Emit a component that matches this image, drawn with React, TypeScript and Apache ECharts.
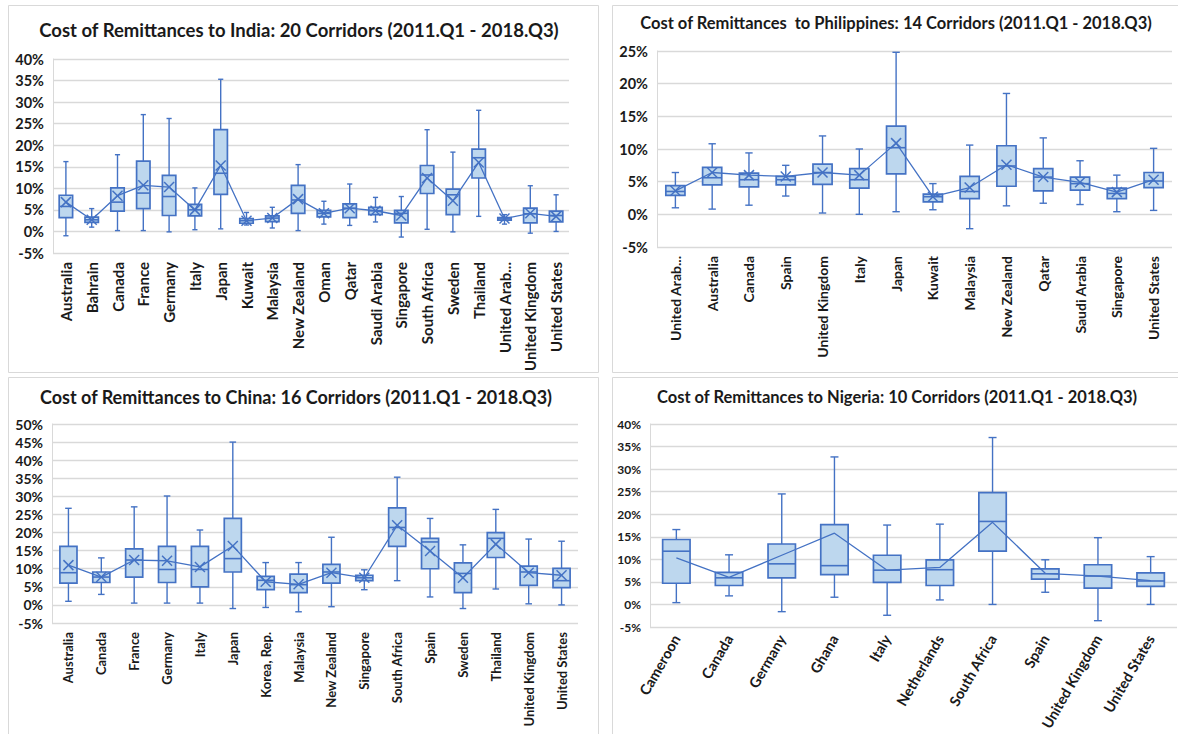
import { useEffect, useRef } from 'react';
import * as echarts from 'echarts';

// Cost of remittances (% of amount sent), quartiles per sending corridor
const indiaNames = ['Australia', 'Bahrain', 'Canada', 'France', 'Germany', 'Italy', 'Japan', 'Kuwait', 'Malaysia', 'New Zealand', 'Oman', 'Qatar', 'Saudi Arabia', 'Singapore', 'South Africa', 'Sweden', 'Thailand', 'United Arab Emirates', 'United Kingdom', 'United States'];
const indiaMin = [-1.0, 1.0, 0.2, 0.2, -0.1, 0.4, 0.6, 1.5, 0.8, 0.2, 1.7, 1.4, 2.2, -1.3, 0.5, -0.1, 3.5, 1.7, -0.4, 0.0];
const indiaQ1 = [3.2, 2.1, 4.7, 5.3, 3.7, 3.6, 8.6, 1.9, 2.3, 4.2, 3.4, 3.2, 3.9, 2.0, 8.8, 3.9, 12.4, 2.6, 2.0, 2.2];
const indiaMedian = [5.8, 2.7, 6.8, 8.9, 8.1, 5.0, 13.5, 2.5, 3.1, 7.3, 4.2, 5.4, 4.8, 4.2, 13.1, 8.5, 17.1, 2.9, 4.1, 3.7];
const indiaQ3 = [8.4, 3.3, 10.1, 16.3, 13.0, 6.3, 23.6, 3.0, 3.6, 10.7, 4.9, 6.4, 5.6, 4.9, 15.3, 9.8, 19.1, 3.2, 5.4, 4.7];
const indiaMax = [16.2, 5.3, 17.8, 27.1, 26.2, 10.1, 35.3, 4.4, 5.6, 15.5, 7.0, 11.0, 7.9, 8.1, 23.6, 18.4, 28.1, 3.9, 10.6, 8.5];
const indiaMean = [6.8, 2.7, 8.3, 10.7, 10.3, 5.0, 15.3, 2.5, 3.1, 7.5, 4.2, 5.4, 4.8, 3.7, 12.4, 7.1, 16.0, 3.0, 4.2, 3.5];

const philNames = ['United Arab Emirates', 'Australia', 'Canada', 'Spain', 'United Kingdom', 'Italy', 'Japan', 'Kuwait', 'Malaysia', 'New Zealand', 'Qatar', 'Saudi Arabia', 'Singapore', 'United States'];
const philMin = [1.0, 0.8, 1.4, 2.8, 0.2, 0.0, 0.4, 0.7, -2.2, 1.3, 1.7, 1.5, 0.4, 0.6];
const philQ1 = [2.9, 4.5, 4.2, 4.5, 4.6, 4.0, 6.2, 1.9, 2.4, 4.3, 3.6, 3.7, 2.4, 4.1];
const philMedian = [3.5, 5.6, 5.3, 5.3, 6.4, 5.3, 10.2, 2.7, 3.5, 7.4, 5.7, 4.7, 3.2, 5.1];
const philQ3 = [4.4, 7.2, 6.3, 5.8, 7.7, 7.0, 13.5, 3.1, 5.8, 10.5, 7.0, 5.7, 4.0, 6.4];
const philMax = [6.4, 10.8, 9.4, 7.5, 12.0, 10.0, 24.8, 4.7, 10.6, 18.5, 11.7, 8.2, 6.0, 10.1];
const philMean = [3.6, 6.4, 6.0, 5.8, 6.4, 6.0, 10.9, 2.7, 4.1, 7.6, 5.7, 4.9, 3.4, 5.3];

const chinaNames = ['Australia', 'Canada', 'France', 'Germany', 'Italy', 'Japan', 'Korea, Rep.', 'Malaysia', 'New Zealand', 'Singapore', 'South Africa', 'Spain', 'Sweden', 'Thailand', 'United Kingdom', 'United States'];
const chinaMin = [1.0, 2.9, 0.5, 0.5, 0.5, -1.0, -0.7, -1.9, -0.5, 4.2, 6.7, 2.2, -1.0, 4.4, 0.3, 0.0];
const chinaQ1 = [6.0, 6.2, 7.7, 6.2, 5.0, 9.1, 4.2, 3.4, 6.0, 6.7, 16.2, 10.0, 3.4, 13.1, 5.4, 4.8];
const chinaMedian = [8.9, 7.7, 12.4, 9.8, 9.8, 12.8, 6.8, 5.6, 9.1, 7.5, 21.4, 17.4, 8.7, 18.4, 9.1, 6.7];
const chinaQ3 = [16.2, 9.1, 15.5, 16.2, 16.2, 23.9, 7.9, 8.5, 11.2, 8.2, 26.8, 18.4, 11.6, 20.0, 10.7, 10.1];
const chinaMax = [26.7, 13.0, 27.1, 30.1, 20.7, 45.0, 11.7, 11.7, 18.7, 9.7, 35.3, 23.9, 16.6, 26.4, 18.2, 17.6];
const chinaMean = [11.0, 7.7, 12.4, 12.2, 10.5, 16.3, 6.4, 5.7, 8.9, 7.5, 22.0, 14.9, 7.5, 16.8, 8.9, 8.2];

const nigeriaNames = ['Cameroon', 'Canada', 'Germany', 'Ghana', 'Italy', 'Netherlands', 'South Africa', 'Spain', 'United Kingdom', 'United States'];
const nigeriaMin = [0.4, 1.9, -1.6, 1.6, -2.4, 1.0, 0.0, 2.7, -3.6, 0.0];
const nigeriaQ1 = [4.7, 4.2, 5.9, 6.6, 4.9, 4.2, 11.8, 5.6, 3.6, 4.0];
const nigeriaMedian = [11.8, 5.9, 9.0, 8.6, 7.6, 7.7, 18.4, 6.8, 6.3, 5.2];
const nigeriaQ3 = [14.4, 7.1, 13.4, 17.7, 10.9, 9.9, 24.8, 7.9, 8.8, 7.0];
const nigeriaMax = [16.6, 11.0, 24.5, 32.7, 17.6, 17.8, 37.0, 9.9, 14.8, 10.6];
const nigeriaMean = [10.3, 6.0, 10.9, 15.8, 7.6, 8.2, 18.2, 6.9, 6.3, 5.3];

const BLUE = '#4472C4';
const FILL = '#BDD7EE';
const GRID = '#D9D9D9';
const TEXT = '#1a1a1a';
const FONT = 'Lato, "Open Sans", sans-serif';

type Panel = {
  title: string;
  names: string[];
  min: number[];
  q1: number[];
  median: number[];
  q3: number[];
  max: number[];
  mean: number[];
  yMax: number;
  marker: boolean;
  rotate: number;
  frame: [number, number, number, number];
  grid: { left: number; top: number; width: number; height: number };
  titleX: number;
  titleY: number;
  titleSize: number;
  xLabelSize: number;
  yLabelSize: number;
};

const panels: Panel[] = [
  {
    title: 'Cost of Remittances to India: 20 Corridors (2011.Q1 - 2018.Q3)',
    names: indiaNames, min: indiaMin, q1: indiaQ1, median: indiaMedian, q3: indiaQ3, max: indiaMax, mean: indiaMean,
    yMax: 40, marker: true, rotate: 90,
    frame: [8, 5, 590, 367],
    grid: { left: 53, top: 59, width: 516, height: 194 },
    titleX: 299, titleY: 30, titleSize: 18.5, xLabelSize: 15, yLabelSize: 14.5,
  },
  {
    title: 'Cost of Remittances  to Philippines: 14 Corridors (2011.Q1 - 2018.Q3)',
    names: philNames, min: philMin, q1: philQ1, median: philMedian, q3: philQ3, max: philMax, mean: philMean,
    yMax: 25, marker: true, rotate: 90,
    frame: [612, 5, 570, 367],
    grid: { left: 657, top: 51, width: 515, height: 196 },
    titleX: 896, titleY: 23, titleSize: 16.5, xLabelSize: 14, yLabelSize: 14.5,
  },
  {
    title: 'Cost of Remittances to China: 16 Corridors (2011.Q1 - 2018.Q3)',
    names: chinaNames, min: chinaMin, q1: chinaQ1, median: chinaMedian, q3: chinaQ3, max: chinaMax, mean: chinaMean,
    yMax: 50, marker: true, rotate: 90,
    frame: [8, 377, 590, 360],
    grid: { left: 52, top: 424, width: 526, height: 199 },
    titleX: 296, titleY: 397, titleSize: 18, xLabelSize: 13, yLabelSize: 14,
  },
  {
    title: 'Cost of Remittances to Nigeria: 10 Corridors (2011.Q1 - 2018.Q3)',
    names: nigeriaNames, min: nigeriaMin, q1: nigeriaQ1, median: nigeriaMedian, q3: nigeriaQ3, max: nigeriaMax, mean: nigeriaMean,
    yMax: 40, marker: false, rotate: 60,
    frame: [612, 377, 570, 360],
    grid: { left: 650, top: 424, width: 527, height: 203 },
    titleX: 897, titleY: 397, titleSize: 16.5, xLabelSize: 14.5, yLabelSize: 12,
  },
];

const shortName = (name: string) =>
  name.length > 16 ? name.split(' ').slice(0, 2).join(' ') + '...' : name;

// Box, whiskers with short caps, median bar and optional mean cross
const makeRenderer = (marker: boolean) => (_params: any, api: any) => {
  const i = api.value(0);
  const band = api.size([1, 0])[0];
  const half = band * 0.26;
  const cap = Math.min(band * 0.1, 4);
  const y = (dim: number) => api.coord([i, api.value(dim)])[1];
  const cx = api.coord([i, 0])[0];
  const yMin = y(1);
  const yQ1 = y(2);
  const yMed = y(3);
  const yQ3 = y(4);
  const yMax = y(5);
  const stroke = { stroke: BLUE, lineWidth: 1.4, fill: null };
  const children: any[] = [
    { type: 'line', shape: { x1: cx, y1: yMax, x2: cx, y2: yQ3 }, style: stroke },
    { type: 'line', shape: { x1: cx, y1: yQ1, x2: cx, y2: yMin }, style: stroke },
    { type: 'line', shape: { x1: cx - cap, y1: yMax, x2: cx + cap, y2: yMax }, style: stroke },
    { type: 'line', shape: { x1: cx - cap, y1: yMin, x2: cx + cap, y2: yMin }, style: stroke },
    {
      type: 'rect',
      shape: { x: cx - half, y: yQ3, width: half * 2, height: yQ1 - yQ3 },
      style: { fill: FILL, stroke: BLUE, lineWidth: 1.7 },
    },
    { type: 'line', shape: { x1: cx - half, y1: yMed, x2: cx + half, y2: yMed }, style: { stroke: BLUE, lineWidth: 1.6 } },
  ];
  if (marker) {
    const ym = y(6);
    const s = 5;
    children.push(
      { type: 'line', shape: { x1: cx - s, y1: ym - s, x2: cx + s, y2: ym + s }, style: { stroke: BLUE, lineWidth: 1.5 } },
      { type: 'line', shape: { x1: cx - s, y1: ym + s, x2: cx + s, y2: ym - s }, style: { stroke: BLUE, lineWidth: 1.5 } },
    );
  }
  return { type: 'group', children };
};

export default function App() {
  const ref = useRef<HTMLDivElement>(null);

  useEffect(() => {
    if (!ref.current) return;
    const chart = echarts.init(ref.current, undefined, { renderer: 'svg' });

    const grids = panels.map((p) => ({ ...p.grid, outerBoundsMode: 'none' }));
    const xAxes = panels.map((p, k) => ({
      type: 'category',
      gridIndex: k,
      data: p.names,
      axisLine: { show: false, onZero: false },
      axisTick: { show: false },
      splitLine: { show: false },
      axisLabel: {
        interval: 0,
        rotate: p.rotate,
        margin: 9,
        color: TEXT,
        fontFamily: FONT,
        fontWeight: 'bold',
        fontSize: p.xLabelSize,
        formatter: shortName,
      },
    }));
    const yAxes = panels.map((p, k) => ({
      type: 'value',
      gridIndex: k,
      min: -5,
      max: p.yMax,
      interval: 5,
      axisLine: { show: true, lineStyle: { color: GRID, width: 1 } },
      axisTick: { show: false },
      splitLine: { show: true, lineStyle: { color: GRID, width: 1.3 } },
      axisLabel: {
        formatter: '{value}%',
        margin: 9,
        color: TEXT,
        fontFamily: FONT,
        fontWeight: 'bold',
        fontSize: p.yLabelSize,
      },
    }));

    const series: any[] = [];
    panels.forEach((p, k) => {
      series.push({
        type: 'custom',
        xAxisIndex: k,
        yAxisIndex: k,
        renderItem: makeRenderer(p.marker),
        encode: { x: 0, y: [1, 2, 3, 4, 5] },
        data: p.names.map((_, i) => [i, p.min[i], p.q1[i], p.median[i], p.q3[i], p.max[i], p.mean[i]]),
        z: 2,
      });
      series.push({
        type: 'line',
        xAxisIndex: k,
        yAxisIndex: k,
        data: p.mean,
        symbol: 'none',
        lineStyle: { color: BLUE, width: 1.3 },
        z: 3,
      });
    });

    const graphic: any[] = [];
    panels.forEach((p) => {
      const [x, y, w, h] = p.frame;
      graphic.push({
        type: 'rect',
        shape: { x: x + 0.5, y: y + 0.5, width: w, height: h },
        style: { fill: 'none', stroke: GRID, lineWidth: 1 },
        silent: true,
        z: -1,
      });
      graphic.push({
        type: 'text',
        x: p.titleX,
        y: p.titleY,
        style: {
          text: p.title,
          fill: TEXT,
          font: `bold ${p.titleSize}px ${FONT}`,
          textAlign: 'center',
          textVerticalAlign: 'middle',
        },
        silent: true,
      });
    });

    chart.setOption({
      animation: false,
      backgroundColor: '#ffffff',
      grid: grids,
      xAxis: xAxes,
      yAxis: yAxes,
      series,
      graphic,
    });

    return () => chart.dispose();
  }, []);

  return (
    <div
      ref={ref}
      style={{ position: 'absolute', left: 0, top: 0, width: 1178, height: 734, background: '#fff' }}
    />
  );
}
